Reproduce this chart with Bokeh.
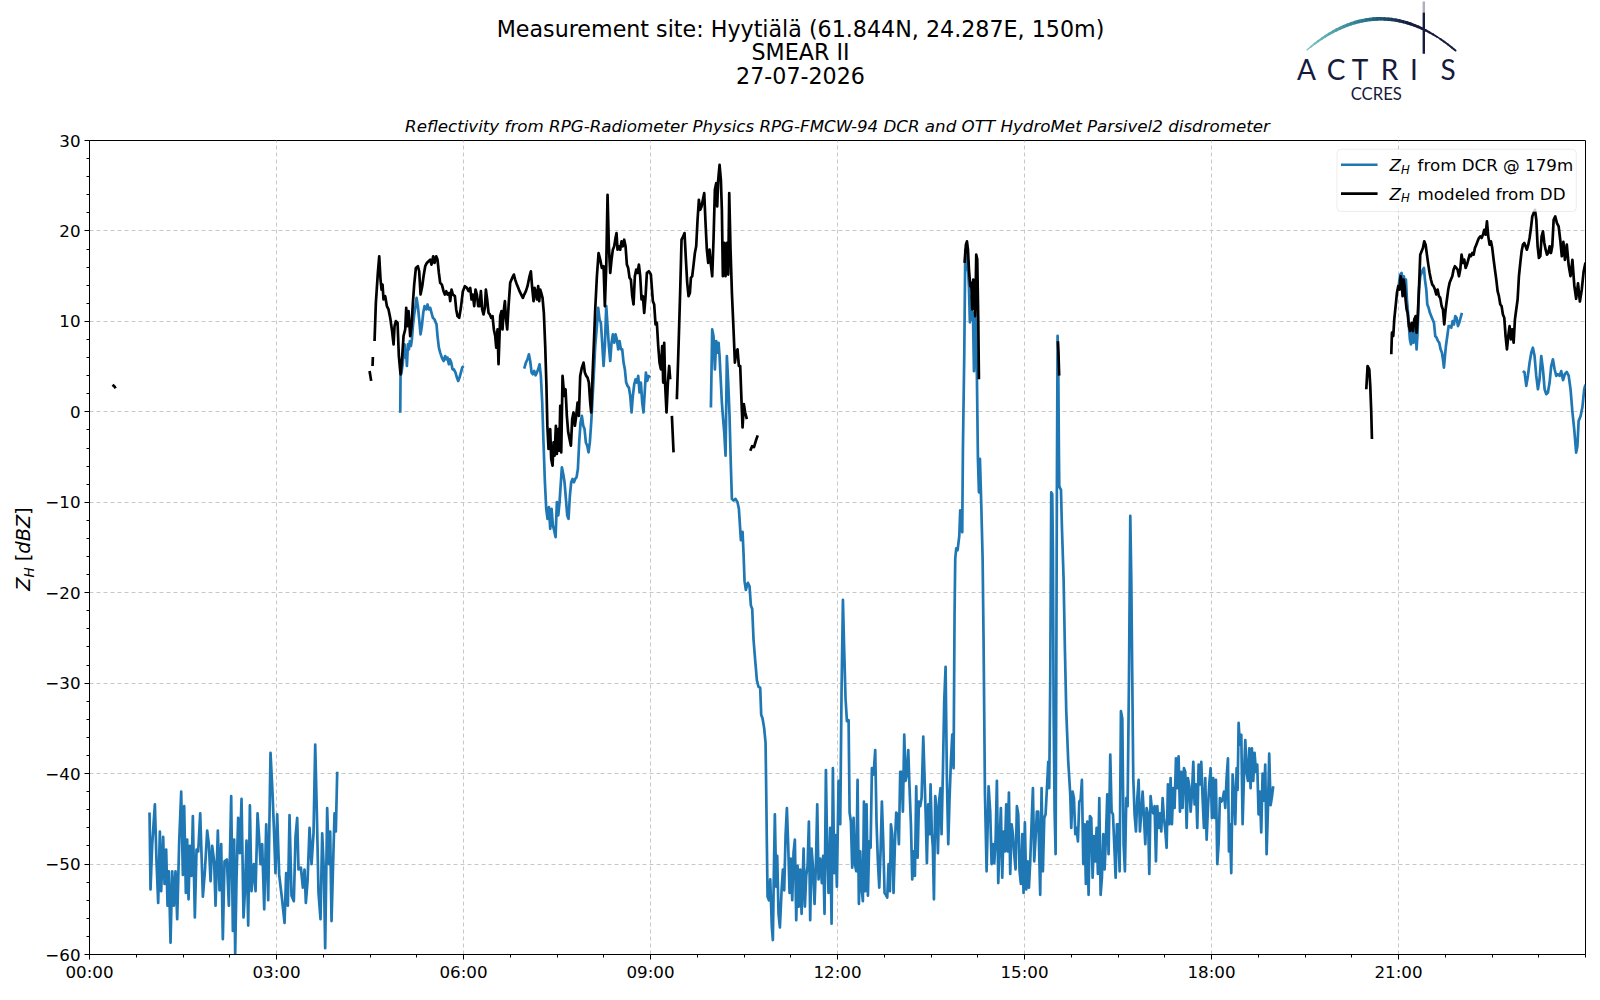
import numpy as np
from math import pi
from bokeh.plotting import figure
from bokeh.models import Range1d, FixedTicker, Label, BoxAnnotation, ColumnDataSource, Title
from bokeh.layouts import column, row
from bokeh.embed import file_html
from bokeh.resources import INLINE
from bokeh.core.properties import value

# ---------------- data (hours since 00:00 UTC, reflectivity in dBZ) ----------------
X_TICKS = [0, 3, 6, 9, 12, 15, 18, 21]
X_TICK_LABELS = ["00:00", "03:00", "06:00", "09:00", "12:00", "15:00", "18:00", "21:00"]
Y_TICKS = [-60, -50, -40, -30, -20, -10, 0, 10, 20, 30]
Y_TICK_LABELS = ["\u221260", "\u221250", "\u221240", "\u221230", "\u221220", "\u221210", "0", "10", "20", "30"]

# Z_H from DCR @ 179m (segments separated by data gaps)
DCR1_T = [0.963, 0.979, 1.006, 1.049, 1.075, 1.102, 1.129, 1.150, 1.182, 1.204,
          1.230, 1.252, 1.273, 1.300, 1.327, 1.353, 1.380, 1.407, 1.439, 1.471,
          1.498, 1.519, 1.546, 1.567, 1.589, 1.610, 1.637, 1.658, 1.690, 1.717,
          1.744, 1.776, 1.819, 1.851, 1.888, 1.915, 1.942, 1.968, 2.000, 2.022,
          2.059, 2.086, 2.113, 2.139, 2.166, 2.204, 2.236, 2.273, 2.300, 2.321,
          2.337, 2.359, 2.385, 2.412, 2.439, 2.471, 2.492, 2.519, 2.546, 2.573,
          2.599, 2.637, 2.664, 2.696, 2.717, 2.744, 2.770, 2.803, 2.835, 2.867,
          2.904, 2.936, 2.958, 2.984, 3.011, 3.043, 3.086, 3.129, 3.155, 3.182,
          3.209, 3.241, 3.278, 3.305, 3.332, 3.353, 3.391, 3.423, 3.450, 3.471,
          3.498, 3.530, 3.562, 3.594, 3.621, 3.647, 3.674, 3.706, 3.733, 3.760,
          3.781, 3.813, 3.840, 3.861, 3.883, 3.904, 3.931, 3.952, 3.974]
DCR1_Z = [-44.3, -52.8, -47.8, -43.4, -49.7, -54.3, -46.4, -53.0, -47.0, -52.2,
          -48.4, -54.6, -50.8, -58.7, -50.8, -54.6, -50.8, -56.1, -47.5, -42.0,
          -51.2, -43.6, -53.2, -47.3, -53.9, -48.0, -51.3, -44.7, -55.9, -48.4,
          -48.6, -44.4, -53.6, -50.8, -46.3, -47.8, -51.9, -48.0, -49.7, -54.6,
          -46.3, -52.9, -47.8, -58.3, -49.7, -49.5, -54.6, -42.5, -57.4, -47.3,
          -60.0, -51.5, -44.9, -48.8, -42.8, -55.9, -53.2, -47.4, -56.8, -43.5,
          -53.0, -50.0, -53.0, -44.4, -46.6, -50.0, -47.8, -55.0, -45.6, -54.0,
          -37.7, -42.1, -46.0, -51.0, -44.5, -51.2, -53.7, -56.5, -51.0, -54.6,
          -44.6, -53.5, -54.1, -47.0, -44.9, -50.6, -50.4, -52.6, -50.6, -54.3,
          -51.9, -46.0, -50.0, -46.6, -36.8, -44.2, -53.2, -56.1, -46.6, -50.8,
          -59.3, -43.8, -50.0, -46.4, -56.3, -51.0, -44.4, -46.4, -39.8]

DCR2_T = [4.985, 4.990, 5.006, 5.027, 5.038, 5.054, 5.070, 5.081, 5.092, 5.108,
          5.124, 5.140, 5.156, 5.172, 5.188, 5.209, 5.230, 5.247, 5.268, 5.289,
          5.311, 5.332, 5.354, 5.375, 5.402, 5.423, 5.444, 5.466, 5.487, 5.509,
          5.535, 5.567, 5.583, 5.605, 5.626, 5.653, 5.680, 5.706, 5.723, 5.744,
          5.765, 5.781, 5.803, 5.824, 5.846, 5.872, 5.894, 5.915, 5.936, 5.958,
          5.979, 6.000]
DCR2_Z = [-0.1, 3.97, 4.34, 5.44, 6.91, 7.46, 5.99, 6.54, 5.07, 7.46,
          6.91, 7.83, 7.28, 8.01, 9.48, 10.77, 11.69, 12.6, 11.69, 10.22,
          8.56, 9.48, 10.95, 11.69, 11.32, 11.87, 11.32, 11.5, 10.95, 10.4,
          10.22, 9.67, 8.38, 7.09, 6.54, 5.99, 5.62, 6.17, 5.81, 5.99,
          5.26, 5.81, 5.44, 4.7, 4.7, 4.34, 3.79, 3.42, 3.79, 4.34,
          4.89, 5.07]

DCR3_T = [6.974, 7.001, 7.027, 7.049, 7.070, 7.092, 7.113, 7.134, 7.156, 7.177,
          7.198, 7.220, 7.241, 7.263, 7.284, 7.306, 7.327, 7.348, 7.370, 7.391,
          7.413, 7.434, 7.455, 7.477, 7.498, 7.520, 7.541, 7.562, 7.578, 7.600,
          7.621, 7.643, 7.664, 7.685, 7.707, 7.728, 7.749, 7.771, 7.792, 7.814,
          7.835, 7.856, 7.878, 7.899, 7.921, 7.942, 7.963, 7.985, 8.006, 8.027,
          8.049, 8.070, 8.092, 8.113, 8.140, 8.161, 8.182, 8.204, 8.225, 8.247,
          8.268, 8.290, 8.311, 8.332, 8.354, 8.375, 8.396, 8.418, 8.439, 8.460,
          8.482, 8.503, 8.525, 8.546, 8.568, 8.589, 8.610, 8.632, 8.653, 8.675,
          8.696, 8.717, 8.739, 8.760, 8.782, 8.803, 8.824, 8.846, 8.867, 8.888,
          8.910, 8.926, 8.947, 8.969, 8.995]
DCR3_Z = [4.78, 5.44, 5.81, 6.36, 5.62, 4.34, 4.15, 4.52, 4.04, 4.34,
          4.70, 5.26, 3.97, 1.0, -3.5, -7.78, -10.72, -11.83, -10.54, -12.93,
          -10.72, -12.56, -13.11, -13.85, -9.99, -11.46, -9.99, -7.78, -6.13, -6.87,
          -7.78, -9.62, -11.46, -11.83, -9.25, -7.78, -7.42, -7.78, -7.42, -7.23,
          -6.32, -3.38, -1.17, -0.44, -1.54, -1.91, -3.38, -3.74, -4.48, -3.38,
          -1.17, 1.40, 4.34, 7.28, 9.48, 11.50, 10.22, 9.85, 7.64, 5.07,
          7.28, 11.69, 9.48, 7.28, 5.62, 7.64, 8.56, 7.64, 8.56, 8.01,
          6.91, 7.83, 6.91, 6.91, 5.44, 4.70, 3.24, 2.87, 2.68, 1.77,
          -0.07, 1.77, 3.05, 3.60, 3.24, 3.97, 2.14, 3.24, 1.03, -0.07,
          2.50, 4.34, 3.42, 3.97, 3.79]

DCR4_T = [9.969, 9.990, 10.011, 10.033, 10.054, 10.076, 10.092, 10.108, 10.129, 10.145,
          10.161, 10.183, 10.204, 10.225, 10.247, 10.268, 10.289, 10.306, 10.332, 10.364,
          10.396, 10.418, 10.440, 10.450, 10.477, 10.493, 10.509, 10.530, 10.562, 10.589,
          10.610, 10.632, 10.653, 10.680, 10.707, 10.733, 10.760, 10.776, 10.798, 10.824,
          10.846, 10.857, 10.867, 10.878, 10.900, 10.921, 10.947, 10.963, 10.979, 10.995,
          11.017, 11.033, 11.054, 11.076, 11.103, 11.124, 11.145, 11.167, 11.188, 11.209,
          11.231, 11.252, 11.274, 11.295, 11.316, 11.338, 11.359, 11.380, 11.402, 11.424,
          11.456, 11.477, 11.498, 11.520, 11.541, 11.562, 11.584, 11.605, 11.632, 11.653,
          11.675, 11.696, 11.723, 11.749, 11.771, 11.792, 11.814, 11.835, 11.856, 11.883,
          11.905, 11.926, 11.947, 11.969, 11.990, 12.017, 12.044, 12.065, 12.087, 12.108,
          12.129, 12.151, 12.178, 12.194, 12.215, 12.236, 12.258, 12.279, 12.301, 12.322,
          12.343, 12.365, 12.386, 12.407, 12.424, 12.445, 12.466, 12.488, 12.509, 12.531,
          12.552, 12.579, 12.605, 12.627, 12.648, 12.670, 12.691, 12.712, 12.734, 12.755,
          12.776, 12.798, 12.819, 12.841, 12.857, 12.878, 12.899, 12.921, 12.942, 12.964,
          12.985, 13.006, 13.028, 13.049, 13.071, 13.092, 13.113, 13.135, 13.156, 13.178,
          13.199, 13.220, 13.242, 13.263, 13.285, 13.306, 13.327, 13.349, 13.376, 13.397,
          13.418, 13.434, 13.456, 13.477, 13.493, 13.514, 13.530, 13.547, 13.568, 13.589,
          13.611, 13.632, 13.653, 13.669, 13.691, 13.712, 13.734, 13.755, 13.777, 13.798,
          13.819, 13.841, 13.862, 13.878, 13.889, 13.905, 13.927, 13.954, 13.969, 13.986,
          14.001, 14.012, 14.034, 14.050, 14.066, 14.087, 14.108, 14.124, 14.141, 14.157,
          14.173, 14.189, 14.205, 14.221, 14.237, 14.253, 14.269, 14.285, 14.307, 14.328,
          14.343, 14.365, 14.392, 14.424, 14.450, 14.472, 14.493, 14.515, 14.536, 14.557,
          14.579, 14.600, 14.621, 14.643, 14.664, 14.685, 14.707, 14.728, 14.750, 14.771,
          14.793, 14.814, 14.835, 14.857, 14.878, 14.900, 14.921, 14.942, 14.964, 14.985,
          15.006, 15.028, 15.049, 15.071, 15.092, 15.113, 15.135, 15.156, 15.178, 15.199,
          15.220, 15.252, 15.274, 15.295, 15.317, 15.338, 15.360, 15.381, 15.397, 15.413,
          15.429, 15.445, 15.456, 15.467, 15.483, 15.499, 15.510, 15.520, 15.531, 15.542,
          15.552, 15.558, 15.574, 15.585, 15.601, 15.627, 15.649, 15.670, 15.702, 15.734,
          15.750, 15.772, 15.793, 15.815, 15.836, 15.857, 15.879, 15.900, 15.921, 15.943,
          15.964, 15.985, 16.007, 16.028, 16.050, 16.071, 16.093, 16.114, 16.135, 16.157,
          16.178, 16.200, 16.221, 16.242, 16.264, 16.285, 16.306, 16.328, 16.349, 16.376,
          16.397, 16.419, 16.440, 16.462, 16.483, 16.504, 16.526, 16.547, 16.569, 16.590,
          16.611, 16.633, 16.654, 16.676, 16.697, 16.713, 16.729, 16.745, 16.766, 16.788,
          16.810, 16.831, 16.852, 16.874, 16.895, 16.916, 16.938, 16.959, 16.981, 17.002,
          17.023, 17.045, 17.066, 17.087, 17.109, 17.130, 17.152, 17.173, 17.194, 17.216,
          17.237, 17.258, 17.280, 17.301, 17.323, 17.344, 17.365, 17.387, 17.408, 17.430,
          17.451, 17.472, 17.494, 17.515, 17.536, 17.558, 17.579, 17.601, 17.622, 17.644,
          17.665, 17.686, 17.708, 17.729, 17.750, 17.772, 17.793, 17.814, 17.836, 17.857,
          17.879, 17.900, 17.922, 17.943, 17.964, 17.986, 18.007, 18.028, 18.050, 18.071,
          18.093, 18.114, 18.135, 18.157, 18.178, 18.200, 18.221, 18.242, 18.264, 18.280,
          18.296, 18.317, 18.339, 18.360, 18.381, 18.403, 18.419, 18.435, 18.456, 18.478,
          18.499, 18.520, 18.542, 18.563, 18.584, 18.606, 18.627, 18.648, 18.670, 18.691,
          18.713, 18.734, 18.755, 18.776, 18.798, 18.820, 18.840, 18.862, 18.884, 18.905,
          18.926, 18.948, 18.969, 18.990]
DCR4_Z = [0.48, 9.11, 8.38, 4.70, 7.83, 6.54, 7.64, 6.17, 3.24, 1.03,
          -0.44, -2.27, -4.85, 6.17, 3.24, -0.44, -5.95, -9.62, -9.80, -9.62,
          -9.99, -10.72, -13.07, -14.2, -13.26, -15.72, -18.75, -19.7, -18.9, -19.3,
          -21.4, -21.8, -25.2, -27.5, -29.7, -30.4, -30.5, -33.5, -33.9, -35.0,
          -36.6, -42.2, -47.9, -53.6, -54.0, -51.7, -57.0, -58.4, -51.0, -44.5,
          -52.5, -49.1, -55.5, -57.0, -52.9, -50.6, -52.9, -46.8, -43.8, -47.9,
          -53.2, -49.4, -54.0, -48.7, -47.3, -56.2, -50.2, -54.7, -50.6, -55.5,
          -48.3, -54.7, -51.3, -50.2, -45.3, -56.2, -48.3, -50.2, -54.4, -50.2,
          -43.4, -51.7, -49.4, -52.1, -49.1, -55.5, -39.6, -48.7, -53.2, -46.0,
          -56.6, -39.4, -51.0, -46.8, -52.5, -40.8, -45.6, -30.9, -20.8, -26.5,
          -31.7, -34.2, -34.1, -44.3, -45.3, -50.4, -44.9, -50.0, -50.8, -40.7,
          -54.4, -48.6, -52.6, -54.1, -43.1, -53.0, -43.4, -53.5, -47.5, -48.2,
          -39.4, -40.1, -37.4, -45.6, -49.7, -52.6, -48.6, -43.1, -47.5, -53.2,
          -53.4, -53.7, -50.0, -53.0, -45.6, -46.7, -53.2, -47.8, -44.3, -44.5,
          -47.8, -39.8, -39.8, -44.2, -35.7, -40.8, -40.1, -37.4, -41.6, -45.6,
          -51.7, -48.6, -51.3, -41.4, -49.3, -43.1, -43.6, -42.7, -35.9, -40.5,
          -45.3, -49.9, -43.4, -46.7, -41.2, -46.7, -48.2, -53.9, -42.5, -43.8,
          -48.8, -42.9, -41.6, -46.7, -39.8, -32.0, -28.2, -40.5, -47.8, -42.7,
          -38.7, -35.7, -39.4, -22.3, -16.2, -15.1, -15.3, -13.7, -10.9, -11.1,
          -13.3, -4.1, 6.5, 17.9, 15.7, 16.8, 13.9, 9.9, 12.8, 10.2,
          11.0, 4.5, 10.6, 10.2, 3.6, -5.2, -8.9, -5.2, -10.4, -16.2,
          -25.0, -42.0, -50.8, -41.4, -44.2, -50.0, -47.8, -49.9, -47.5, -40.8,
          -52.1, -47.5, -43.8, -51.5, -46.4, -48.6, -43.4, -48.6, -42.1, -51.1,
          -45.6, -46.7, -48.9, -50.6, -43.6, -44.5, -50.8, -52.2, -46.7, -53.2,
          -45.4, -52.8, -49.7, -52.6, -49.7, -45.6, -41.6, -49.7, -47.1, -44.2,
          -44.2, -53.4, -41.6, -50.8, -44.9, -44.5, -41.6, -38.7, -41.6, -29.5,
          -8.9, -9.1, -15.5, -33.1, -44.2, -48.9, -29.5, -7.4, 8.4, 4.7,
          -4.5, -8.2, -8.5, -8.6, -12.9, -18.4, -26.5, -33.1, -38.7, -42.3,
          -46.0, -42.0, -42.7, -46.7, -46.0, -47.5, -43.1, -42.9, -40.7, -50.0,
          -45.6, -52.2, -45.3, -53.4, -44.7, -44.9, -51.5, -46.9, -49.7, -46.0,
          -51.1, -42.7, -53.4, -51.5, -46.7, -50.6, -47.1, -42.3, -48.9, -37.9,
          -44.2, -44.5, -47.8, -51.5, -45.6, -45.6, -50.8, -33.1, -33.9, -47.8,
          -50.8, -42.7, -43.6, -29.5, -11.5, -18.4, -29.5, -40.5, -44.5, -46.4,
          -42.7, -40.7, -46.4, -44.3, -42.0, -44.7, -47.8, -43.8, -44.5, -51.1,
          -42.5, -44.0, -44.4, -43.6, -49.7, -43.6, -46.0, -44.4, -46.4, -42.7,
          -44.9, -46.2, -48.2, -41.2, -45.6, -40.5, -45.6, -41.6, -43.8, -38.3,
          -41.6, -38.1, -44.2, -39.8, -43.8, -39.4, -39.8, -46.0, -40.5, -41.4,
          -44.2, -42.3, -38.7, -43.4, -41.2, -46.0, -39.0, -41.2, -38.7, -42.7,
          -46.0, -40.5, -47.3, -43.8, -41.2, -39.4, -44.9, -40.5, -44.9, -40.7,
          -50.0, -47.8, -42.7, -43.1, -42.9, -42.0, -43.8, -40.5, -38.3, -48.6,
          -45.6, -51.0, -40.1, -42.3, -45.6, -39.4, -41.8, -34.4, -36.8, -35.7,
          -45.6, -40.5, -36.3, -39.8, -40.8, -37.2, -41.6, -37.2, -40.8, -37.7,
          -39.8, -39.0, -44.5, -42.0, -46.5, -40.0, -43.0, -39.0, -48.9, -44.0,
          -37.8, -43.5, -42.6, -41.4]

DCR5_T = [21.002, 21.028, 21.050, 21.071, 21.087, 21.103, 21.119, 21.135, 21.151, 21.167,
          21.183, 21.200, 21.221, 21.242, 21.258, 21.274, 21.290, 21.306, 21.328, 21.349,
          21.371, 21.392, 21.408, 21.424, 21.446, 21.462, 21.483, 21.504, 21.526, 21.547,
          21.569, 21.590, 21.611, 21.633, 21.654, 21.675, 21.697, 21.713, 21.729, 21.745,
          21.761, 21.783, 21.804, 21.825, 21.847, 21.868, 21.889, 21.911, 21.932, 21.954,
          21.975, 21.996, 22.018]
DCR5_Z = [13.89, 15.18, 15.36, 14.26, 14.99, 13.34, 14.62, 12.42, 11.13, 9.48,
          8.01, 7.46, 8.75, 7.64, 10.22, 9.48, 6.91, 8.75, 13.52, 14.99,
          15.36, 15.73, 15.91, 14.62, 13.52, 11.87, 11.5, 10.95, 10.58, 10.22,
          9.85, 8.38, 8.2, 7.83, 7.64, 6.91, 6.54, 5.81, 4.89, 6.17,
          7.28, 8.38, 9.48, 9.48, 9.3, 10.03, 9.66, 10.58, 10.4, 9.48,
          9.85, 10.4, 10.95]

DCR6_T = [22.996, 23.023, 23.050, 23.076, 23.103, 23.130, 23.156, 23.183, 23.210, 23.237,
          23.263, 23.290, 23.317, 23.344, 23.370, 23.397, 23.424, 23.450, 23.477, 23.504,
          23.531, 23.557, 23.584, 23.610, 23.640, 23.670, 23.700, 23.730, 23.760, 23.790,
          23.820, 23.850, 23.870, 23.890, 23.920, 23.950, 23.980, 24.000]
DCR6_Z = [4.52, 4.34, 2.87, 3.97, 5.44, 6.54, 7.09, 6.17, 3.97, 2.5,
          3.6, 6.17, 4.71, 2.5, 1.95, 2.14, 3.24, 5.07, 5.81, 4.71,
          3.97, 4.16, 3.97, 4.5, 3.5, 4.2, 4.4, 4.0, 2.5, 0.0,
          -2.0, -4.5, -3.8, -1.0, -0.5, 0.5, 2.5, 3.0]

# Z_H modeled from the disdrometer (DD)
DD1_T = [0.37, 0.40, 0.42]
DD1_Z = [3.0, 2.8, 2.6]
DD2_T = [4.493, 4.519]
DD2_Z = [4.52, 3.42]
DD3_T = [4.541, 4.546]
DD3_Z = [5.07, 6.06]
DD4_T = [4.573, 4.594, 4.626, 4.648, 4.669, 4.685, 4.701, 4.717, 4.744, 4.771,
         4.797, 4.824, 4.851, 4.878, 4.894, 4.915, 4.942, 4.963, 4.990, 5.017,
         5.038, 5.065, 5.081, 5.097, 5.118, 5.145, 5.166, 5.188, 5.209, 5.236,
         5.268, 5.289, 5.311, 5.338, 5.359, 5.386, 5.412, 5.439, 5.466, 5.487,
         5.514, 5.535, 5.562, 5.583, 5.605, 5.626, 5.653, 5.680, 5.701, 5.723,
         5.744, 5.771, 5.787, 5.808, 5.829, 5.862, 5.883, 5.904, 5.931, 5.958,
         5.990, 6.022, 6.054, 6.081, 6.108, 6.129, 6.150, 6.172, 6.193, 6.215,
         6.236, 6.257, 6.279, 6.300, 6.321, 6.343, 6.359, 6.380, 6.402, 6.423,
         6.444, 6.466, 6.487, 6.509, 6.525, 6.546, 6.562, 6.589, 6.610, 6.626,
         6.642, 6.664, 6.680, 6.701, 6.723, 6.749, 6.781, 6.808, 6.829, 6.856,
         6.878, 6.899, 6.926, 6.952, 6.974, 7.001, 7.027, 7.059, 7.081, 7.102,
         7.124, 7.140, 7.161, 7.177, 7.198, 7.215, 7.231, 7.247, 7.268, 7.289,
         7.311, 7.330, 7.345, 7.364, 7.391, 7.407, 7.429, 7.445, 7.461, 7.482,
         7.498, 7.520, 7.536, 7.552, 7.568, 7.589, 7.616, 7.637, 7.658, 7.680,
         7.701, 7.723, 7.744, 7.765, 7.787, 7.808, 7.830, 7.851, 7.872, 7.899,
         7.926, 7.947, 7.969, 7.990, 8.011, 8.033, 8.049, 8.070, 8.092, 8.113,
         8.140, 8.167, 8.193, 8.220, 8.247, 8.268, 8.290, 8.311, 8.332, 8.354,
         8.375, 8.396, 8.418, 8.439, 8.455, 8.471, 8.493, 8.514, 8.535, 8.557,
         8.578, 8.600, 8.621, 8.642, 8.664, 8.685, 8.707, 8.728, 8.749, 8.771,
         8.792, 8.814, 8.835, 8.856, 8.878, 8.899, 8.921, 8.942, 8.974, 9.006,
         9.038, 9.059, 9.081, 9.102, 9.124, 9.145, 9.167, 9.188, 9.204, 9.220,
         9.236, 9.257, 9.279, 9.300, 9.316]
DD4_Z = [7.83, 12.05, 15.36, 17.2, 14.62, 13.52, 14.07, 12.42, 12.79, 11.69,
         11.32, 10.40, 9.11, 7.46, 9.48, 10.03, 9.85, 6.17, 4.15, 6.17,
         8.38, 9.11, 11.50, 9.48, 11.13, 8.38, 9.48, 12.05, 14.07, 15.91,
         16.10, 15.54, 12.97, 13.89, 14.99, 16.10, 16.46, 16.65, 16.83, 16.28,
         17.20, 16.46, 17.20, 16.83, 15.36, 14.26, 14.07, 13.34, 12.97, 13.34,
         12.97, 13.15, 12.24, 13.52, 12.97, 12.79, 11.32, 10.58, 10.40, 11.50,
         13.34, 13.89, 13.71, 13.34, 13.71, 12.42, 12.97, 11.69, 13.52, 12.97,
         11.69, 11.69, 13.34, 11.32, 10.77, 11.50, 13.52, 12.42, 10.95, 10.77,
         10.40, 10.58, 9.11, 8.38, 7.09, 9.11, 5.26, 10.58, 11.13, 9.11,
         10.95, 12.24, 10.40, 9.11, 11.69, 14.26, 14.81, 15.18, 14.62, 14.07,
         13.71, 13.34, 12.97, 12.60, 12.97, 13.34, 13.89, 14.99, 15.54, 13.71,
         12.24, 13.71, 13.15, 12.42, 13.89, 12.24, 13.52, 13.15, 12.60, 10.95,
         7.27, 3.0, -1.5, -4.11, -1.91, -5.21, -5.95, -3.38, -4.85, -1.54,
         -4.66, -1.91, -4.30, 0.66, -4.48, 3.97, 1.77, 2.50, -0.44, -2.27,
         -3.01, -3.74, -0.80, -0.07, -1.54, -0.44, 1.03, -0.44, 3.97, 4.89,
         5.44, 4.34, 3.97, 3.79, 3.24, 1.03, -0.07, 3.97, 7.64, 11.32,
         14.99, 17.56, 16.83, 15.91, 16.10, 11.69, 16.10, 23.99, 18.30, 15.36,
         16.83, 17.93, 18.30, 19.22, 19.77, 17.93, 18.30, 17.93, 18.85, 18.30,
         19.03, 18.30, 16.28, 15.91, 14.81, 14.63, 12.79, 11.87, 14.99, 15.73,
         15.36, 16.28, 14.99, 12.42, 12.79, 10.95, 12.79, 15.36, 15.54, 15.18,
         12.24, 11.87, 9.67, 9.85, 7.28, 5.44, 4.70, 7.28, 3.24, 7.64,
         2.87, -0.07, 3.24, 5.07, 3.60]
DD5_T = [9.343, 9.370]
DD5_Z = [-0.44, -4.48]
DD6_T = [9.423, 9.455, 9.477, 9.498, 9.525, 9.546, 9.568, 9.589, 9.610, 9.632,
         9.648, 9.669, 9.691, 9.712, 9.733, 9.755, 9.776, 9.798, 9.819, 9.840,
         9.862, 9.883, 9.904, 9.926, 9.947, 9.969, 9.990, 10.011, 10.033, 10.054,
         10.070, 10.086, 10.108, 10.129, 10.145, 10.161, 10.183, 10.204, 10.225, 10.247,
         10.263, 10.284, 10.306, 10.332, 10.354, 10.375, 10.396, 10.418, 10.439, 10.461,
         10.477, 10.498, 10.519, 10.546]
DD6_Z = [1.4, 8.38, 13.52, 19.03, 19.4, 19.77, 16.83, 14.26, 12.79, 13.15,
         14.81, 14.99, 16.28, 17.56, 18.3, 21.24, 23.44, 22.34, 22.71, 23.44,
         24.18, 20.87, 17.93, 16.46, 17.93, 16.28, 14.99, 19.03, 24.54, 25.28,
         22.71, 25.65, 27.3, 25.65, 22.34, 14.99, 18.67, 14.99, 18.67, 15.18,
         24.18, 17.93, 13.15, 9.11, 5.44, 6.54, 6.91, 5.07, 5.07, 1.03,
         -1.72, 0.85, -0.07, -0.8]
DD7_T = [10.60, 10.63, 10.66, 10.69, 10.72]
DD7_Z = [-4.3, -3.8, -3.9, -3.2, -2.6]
DD8_T = [14.039, 14.060, 14.077, 14.093, 14.109, 14.130, 14.146, 14.162, 14.178, 14.194,
         14.210, 14.226, 14.242, 14.258, 14.269]
DD8_Z = [16.46, 18.48, 18.85, 17.93, 15.73, 13.89, 14.26, 11.32, 14.63, 12.79,
         10.58, 17.38, 16.83, 10.22, 3.6]
DD9_T = [15.536, 15.545, 15.552, 15.556]
DD9_Z = [7.8, 6.5, 4.9, 4.0]
DD10_T = [20.483, 20.504, 20.531, 20.547, 20.563, 20.574]
DD10_Z = [2.5, 5.07, 4.7, 2.87, -0.07, -3.0]
DD11_T = [20.884, 20.895, 20.916, 20.932, 20.954, 20.975, 20.996, 21.018, 21.034, 21.050,
          21.066, 21.082, 21.098, 21.114, 21.130, 21.146, 21.167, 21.189, 21.210, 21.232,
          21.253, 21.274, 21.290, 21.306, 21.328, 21.349, 21.371, 21.392, 21.413, 21.435,
          21.456, 21.478, 21.499, 21.520, 21.542, 21.563, 21.585, 21.606, 21.627, 21.649,
          21.670, 21.692, 21.713, 21.734, 21.756, 21.777, 21.798, 21.820, 21.841, 21.863,
          21.884, 21.905, 21.927, 21.948, 21.970, 21.991, 22.012, 22.034, 22.055, 22.077,
          22.098, 22.120, 22.141, 22.162, 22.184, 22.205, 22.226, 22.248, 22.269, 22.290,
          22.312, 22.333, 22.355, 22.376, 22.397, 22.419, 22.440, 22.462, 22.483, 22.504,
          22.526, 22.547, 22.569, 22.590, 22.611, 22.633, 22.654, 22.675, 22.697, 22.718,
          22.740, 22.761, 22.782, 22.804, 22.825, 22.847, 22.868, 22.889, 22.911, 22.932,
          22.954, 22.975, 22.996, 23.018, 23.039, 23.060, 23.082, 23.103, 23.125, 23.146,
          23.167, 23.189, 23.211, 23.232, 23.253, 23.275, 23.296, 23.318, 23.339, 23.361,
          23.382, 23.403, 23.425, 23.446, 23.467, 23.489, 23.515, 23.542, 23.569, 23.595,
          23.620, 23.645, 23.670, 23.700, 23.730, 23.760, 23.790, 23.820, 23.850, 23.880,
          23.910, 23.940, 23.970, 24.000]
DD11_Z = [6.36, 8.75, 8.38, 10.22, 11.69, 13.16, 13.89, 13.52, 14.99, 14.44,
          12.79, 14.62, 13.89, 12.42, 11.32, 10.95, 9.48, 8.93, 9.85, 8.93,
          10.22, 10.58, 8.75, 10.22, 13.52, 17.38, 17.75, 18.11, 18.85, 18.48,
          17.38, 16.28, 15.36, 14.62, 14.07, 13.89, 13.52, 12.97, 13.52, 12.79,
          12.60, 11.69, 11.32, 9.67, 11.32, 12.42, 13.52, 14.26, 14.62, 14.99,
          15.73, 16.10, 15.91, 15.73, 14.99, 15.73, 17.38, 16.46, 16.83, 15.91,
          16.28, 16.83, 17.38, 17.20, 17.56, 17.38, 18.11, 18.48, 18.85, 19.22,
          19.40, 19.22, 19.58, 20.13, 19.58, 21.05, 19.40, 18.48, 18.85, 18.11,
          16.83, 15.73, 14.62, 13.34, 12.79, 11.87, 11.69, 10.77, 10.40, 8.38,
          6.91, 8.38, 9.48, 8.01, 9.11, 7.64, 10.22, 11.32, 12.42, 14.99,
          16.46, 17.75, 18.48, 18.67, 18.30, 17.93, 18.48, 19.22, 20.32, 21.60,
          21.97, 22.34, 21.24, 18.30, 17.01, 17.20, 19.40, 19.95, 18.67, 17.93,
          17.38, 17.56, 18.30, 17.56, 18.30, 21.24, 21.60, 20.87, 20.50, 19.0,
          17.2, 18.8, 16.8, 18.5, 16.2, 15.0, 16.8, 14.0, 12.5, 14.2,
          12.2, 13.5, 15.5, 16.5]

DCR_T = [DCR1_T, DCR2_T, DCR3_T, DCR4_T, DCR5_T, DCR6_T]
DCR_Z = [DCR1_Z, DCR2_Z, DCR3_Z, DCR4_Z, DCR5_Z, DCR6_Z]
DD_T = [DD1_T, DD2_T, DD3_T, DD4_T, DD5_T, DD6_T, DD7_T, DD8_T, DD9_T, DD10_T, DD11_T]
DD_Z = [DD1_Z, DD2_Z, DD3_Z, DD4_Z, DD5_Z, DD6_Z, DD7_Z, DD8_Z, DD9_Z, DD10_Z, DD11_Z]


def join(ts, zs):
    t_out, z_out = [], []
    for i, (t, z) in enumerate(zip(ts, zs)):
        n = min(len(t), len(z))
        if i:
            t_out.append(np.nan)
            z_out.append(np.nan)
        t_out.extend(t[:n])
        z_out.extend(z[:n])
    return np.array(t_out, dtype=float), np.array(z_out, dtype=float)


BLUE = "#1f77b4"
NAVY = "#161a3c"
FONT = "DejaVu Sans"
LW = 2.7

# ---------------- layout geometry (pixels) ----------------
TOTAL_W = 1592
HEAD_H = 105
YLAB_W = 40
MAIN_W = TOTAL_W - YLAB_W
MAIN_H = 879
B_LEFT, B_RIGHT, B_TOP, B_BOTTOM = 49, 7, 35, 27
FR_TOP = HEAD_H + B_TOP
FR_BOT = HEAD_H + MAIN_H - B_BOTTOM

# ---------------- header (titles + logo) ----------------
head = figure(width=TOTAL_W, height=HEAD_H, x_range=Range1d(0, TOTAL_W), y_range=Range1d(HEAD_H, 0),
              output_backend="svg", toolbar_location=None, x_axis_type=None, y_axis_type=None,
              min_border=0, title=None)
head.grid.visible = False
head.outline_line_color = None

title_lines = ["Measurement site: Hyyti\u00e4l\u00e4 (61.844N, 24.287E, 150m)", "SMEAR II", "27-07-2026"]
head.text(x=[800, 800, 800], y=[28.6, 51.2, 74.6], text=title_lines,
          text_font=value(FONT), text_font_size="22.2px", text_align="center",
          text_baseline="middle", text_color="black")

# logo arc (teal -> navy), quadratic bezier
tt = np.linspace(0, 1, 41)
P0, C, P2 = np.array([1306.7, 49.3]), np.array([1380.0, -13.0]), np.array([1455.0, 50.0])
pts = np.array([(1 - s) ** 2 * P0 + 2 * (1 - s) * s * C + s ** 2 * P2 for s in tt])
c0, c1, c2 = np.array([120, 200, 196]), np.array([40, 120, 140]), np.array([22, 26, 60])
cols, wids = [], []
for s in (tt[:-1] + tt[1:]) / 2:
    if s < 0.4:
        c = c0 + (c1 - c0) * (s / 0.4)
    elif s < 0.7:
        c = c1 + (c2 - c1) * ((s - 0.4) / 0.3)
    else:
        c = c2
    cols.append("#%02x%02x%02x" % tuple(int(v) for v in c))
    wids.append(1.2 + 2.4 * np.sin(pi * min(1.0, s * 1.1)) ** 0.7 if s < 0.9 else 2.0)
head.segment(x0=pts[:-1, 0], y0=pts[:-1, 1], x1=pts[1:, 0], y1=pts[1:, 1],
             line_color=cols, line_width=wids, line_cap="round")
head.segment(x0=[1423.3, 1423.3], y0=[1, 12], x1=[1423.3, 1423.3], y1=[12, 53.3],
             line_color=[NAVY, NAVY], line_alpha=[0.35, 1.0], line_width=2.4)
head.text(x=[1306, 1335.5, 1359.5, 1389, 1413.5, 1447.5], y=[68.3] * 6,
          text=["A", "C", "T", "R", "I", "S"], text_font=value("Lato"), text_font_size="28px",
          text_align="center", text_baseline="middle", text_color=NAVY)
head.text(x=[1375.8], y=[93.3], text=["CCRES"], text_font=value("Lato"), text_font_size="16.7px",
          text_align="center", text_baseline="middle", text_color=NAVY)

# ---------------- y-axis label strip ----------------
ylab = figure(width=YLAB_W, height=MAIN_H, x_range=Range1d(0, YLAB_W), y_range=Range1d(FR_BOT, FR_TOP),
              output_backend="svg", toolbar_location=None, x_axis_type=None, y_axis_type=None,
              min_border_left=0, min_border_right=0, min_border_top=B_TOP, min_border_bottom=B_BOTTOM,
              title=None)
ylab.grid.visible = False
ylab.outline_line_color = None
ylab_parts = [("Z", 23.0, 592.0, "italic", "19.4px"), ("H", 28.2, 578.7, "italic", "13.6px"),
              ("[", 23.0, 562.3, "normal", "19.4px"), ("dBZ", 23.0, 554.7, "italic", "19.4px"),
              ("]", 23.0, 515.8, "normal", "19.4px")]
for txt, x, y, st, sz in ylab_parts:
    ylab.text(x=[x], y=[y], text=[txt], angle=pi / 2, text_font=value(FONT), text_font_style=st,
              text_font_size=sz, text_align="left", text_baseline="middle", text_color="black")

# ---------------- main chart ----------------
subtitle = Title(text="Reflectivity from RPG-Radiometer Physics RPG-FMCW-94 DCR and OTT HydroMet Parsivel2 disdrometer",
                 align="center", text_font=FONT, text_font_style="italic", text_font_size="16.7px",
                 text_color="black", standoff=10)
p = figure(width=MAIN_W, height=MAIN_H, x_range=Range1d(0, 24), y_range=Range1d(-60, 30),
           output_backend="svg", toolbar_location=None, title=subtitle,
           min_border_left=B_LEFT, min_border_right=B_RIGHT, min_border_top=B_TOP,
           min_border_bottom=B_BOTTOM)
p.outline_line_color = "black"
p.outline_line_width = 1

p.xaxis.ticker = FixedTicker(ticks=X_TICKS, minor_ticks=[i * 0.75 for i in range(33)])
p.yaxis.ticker = FixedTicker(ticks=Y_TICKS, minor_ticks=list(range(-60, 31, 2)))
p.xaxis.major_label_overrides = dict(zip(X_TICKS, X_TICK_LABELS))
p.yaxis.major_label_overrides = dict(zip(Y_TICKS, Y_TICK_LABELS))
for ax in (p.xaxis, p.yaxis):
    ax.axis_line_color = "black"
    ax.major_tick_line_color = "black"
    ax.minor_tick_line_color = "black"
    ax.major_tick_out = 5
    ax.major_tick_in = 0
    ax.minor_tick_out = 3
    ax.minor_tick_in = 0
    ax.major_label_text_font = FONT
    ax.major_label_text_font_size = "16.7px"
    ax.major_label_text_color = "black"
p.xaxis.major_label_standoff = 2
p.yaxis.major_label_standoff = 4

for g in (p.xgrid, p.ygrid):
    g.grid_line_color = "#c8c8c8"
    g.grid_line_dash = "4 3"
    g.grid_line_width = 1

t_dcr, z_dcr = join(DCR_T, DCR_Z)
t_dd, z_dd = join(DD_T, DD_Z)
p.line("t", "z", source=ColumnDataSource(dict(t=t_dcr, z=z_dcr)), line_color=BLUE,
       line_width=LW, line_join="round")
p.line("t", "z", source=ColumnDataSource(dict(t=t_dd, z=z_dd)), line_color="black",
       line_width=LW, line_join="round")

# legend (drawn by hand so that the subscript H can be shown as text)
p.add_layout(BoxAnnotation(left=20.013, right=23.852, bottom=22.15, top=29.03, fill_color="white",
                           fill_alpha=0.8, line_color="#c4c4c4", line_width=1, border_radius=4))
p.add_layout(BoxAnnotation(left=20.077, right=20.664, bottom=27.17, top=27.47, fill_color=BLUE,
                           fill_alpha=1, line_color=None))
p.add_layout(BoxAnnotation(left=20.077, right=20.664, bottom=23.98, top=24.28, fill_color="black",
                           fill_alpha=1, line_color=None))
for yc, yh, rest in ((27.27, 26.77, "from DCR @ 179m"), (24.11, 23.61, "modeled from DD")):
    p.add_layout(Label(x=20.857, y=yc, text="Z", text_font=FONT, text_font_style="italic",
                       text_font_size="16.7px", text_baseline="middle", text_color="black"))
    p.add_layout(Label(x=21.04, y=yh, text="H", text_font=FONT, text_font_style="italic",
                       text_font_size="11.7px", text_baseline="middle", text_color="black"))
    p.add_layout(Label(x=21.306, y=yc, text=rest, text_font=FONT, text_font_size="16.7px",
                       text_baseline="middle", text_color="black"))

layout = column(head, row(ylab, p))
open("out.html", "w").write(file_html(layout, INLINE))
